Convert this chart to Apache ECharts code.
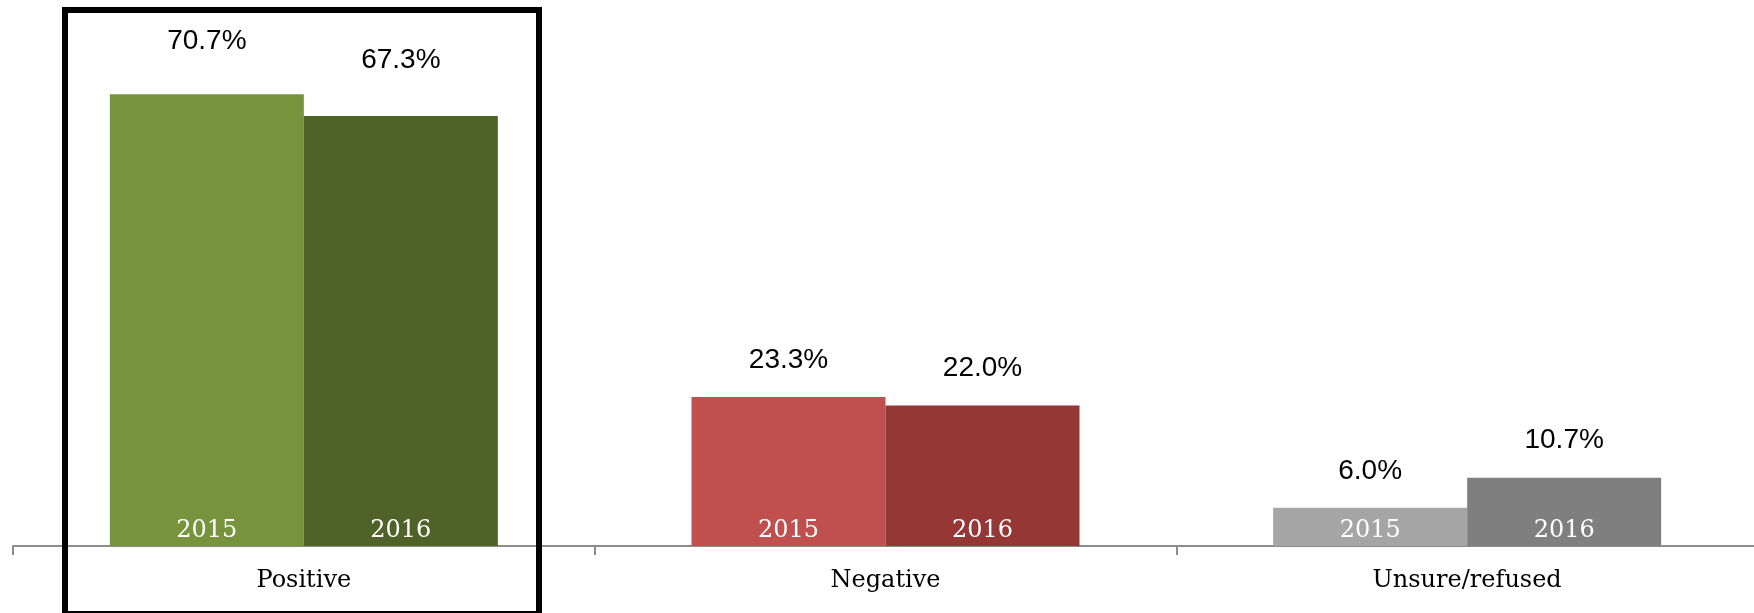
<!DOCTYPE html>
<html>
<head>
<meta charset="utf-8">
<script src="https://cdn.jsdelivr.net/npm/echarts@6/dist/echarts.min.js"></script>
<style>
  html, body { margin: 0; padding: 0; background: #fff; }
  #chart { width: 1754px; height: 613px; }
</style>
</head>
<body>
<div id="chart"></div>
<script>
const categories = ['Positive', 'Negative', 'Unsure/refused'];
const years = ['2015', '2016'];
const values2015 = [70.7, 23.3, 6.0];
const values2016 = [67.3, 22.0, 10.7];

const colors2015 = ['#77933C', '#C0504D', '#A5A5A5'];
const colors2016 = ['#4F6228', '#953735', '#7F7F7F'];
const labelDist2015 = [39, 23, 22];
const labelDist2016 = [42, 23, 23];

const chart = echarts.init(document.getElementById('chart'), null, { renderer: 'canvas' });

function barData(values, colors) {
  return values.map((v, i) => ({ value: v, itemStyle: { color: colors[i] } }));
}
function valueLabelData(values, dists) {
  return values.map((v, i) => ({
    value: v,
    label: { distance: dists[i] }
  }));
}

const yearLabel = {
  show: true,
  position: 'insideBottom',
  distance: 3,
  color: '#ffffff',
  fontFamily: 'DejaVu Serif',
  fontSize: 24,
  lineHeight: 24
};
const valueLabel = {
  show: true,
  position: 'top',
  color: '#000000',
  fontFamily: 'Liberation Sans',
  fontSize: 28,
  lineHeight: 28,
  formatter: p => p.value.toFixed(1) + '%'
};

const option = {
  animation: false,
  backgroundColor: '#ffffff',
  grid: { left: 13, top: 0, width: 1745, height: 546, containLabel: false, outerBoundsMode: 'none' },
  xAxis: [
    {
      type: 'category',
      data: categories,
      axisLine: { show: true, lineStyle: { color: '#8c8c8c', width: 2 } },
      axisTick: { show: true, alignWithLabel: false, length: 9, lineStyle: { color: '#8c8c8c', width: 2 } },
      axisLabel: { color: '#000', fontFamily: 'DejaVu Serif', fontSize: 24, lineHeight: 24, margin: 23 },
      splitLine: { show: false },
      z: 1
    },
    { type: 'category', data: categories, show: false }
  ],
  yAxis: { type: 'value', min: 0, max: 85.45, show: false, splitLine: { show: false } },
  series: [
    {
      name: years[0], type: 'bar', xAxisIndex: 0, barWidth: 194, barGap: '0%',
      data: barData(values2015, colors2015),
      label: Object.assign({}, yearLabel, { formatter: years[0] })
    },
    {
      name: years[1], type: 'bar', xAxisIndex: 0, barWidth: 194, barGap: '0%',
      data: barData(values2016, colors2016),
      label: Object.assign({}, yearLabel, { formatter: years[1] })
    },
    {
      name: years[0] + ' value', type: 'bar', xAxisIndex: 1, barWidth: 194, barGap: '0%',
      silent: true,
      itemStyle: { color: 'rgba(0,0,0,0)' },
      data: valueLabelData(values2015, labelDist2015),
      label: valueLabel
    },
    {
      name: years[1] + ' value', type: 'bar', xAxisIndex: 1, barWidth: 194, barGap: '0%',
      silent: true,
      itemStyle: { color: 'rgba(0,0,0,0)' },
      data: valueLabelData(values2016, labelDist2016),
      label: valueLabel
    }
  ],
  graphic: [
    {
      type: 'rect',
      z: 100,
      shape: { x: 65, y: 10, width: 474, height: 604 },
      style: { fill: 'none', stroke: '#000000', lineWidth: 6 }
    }
  ]
};
chart.setOption(option);
</script>
</body>
</html>
